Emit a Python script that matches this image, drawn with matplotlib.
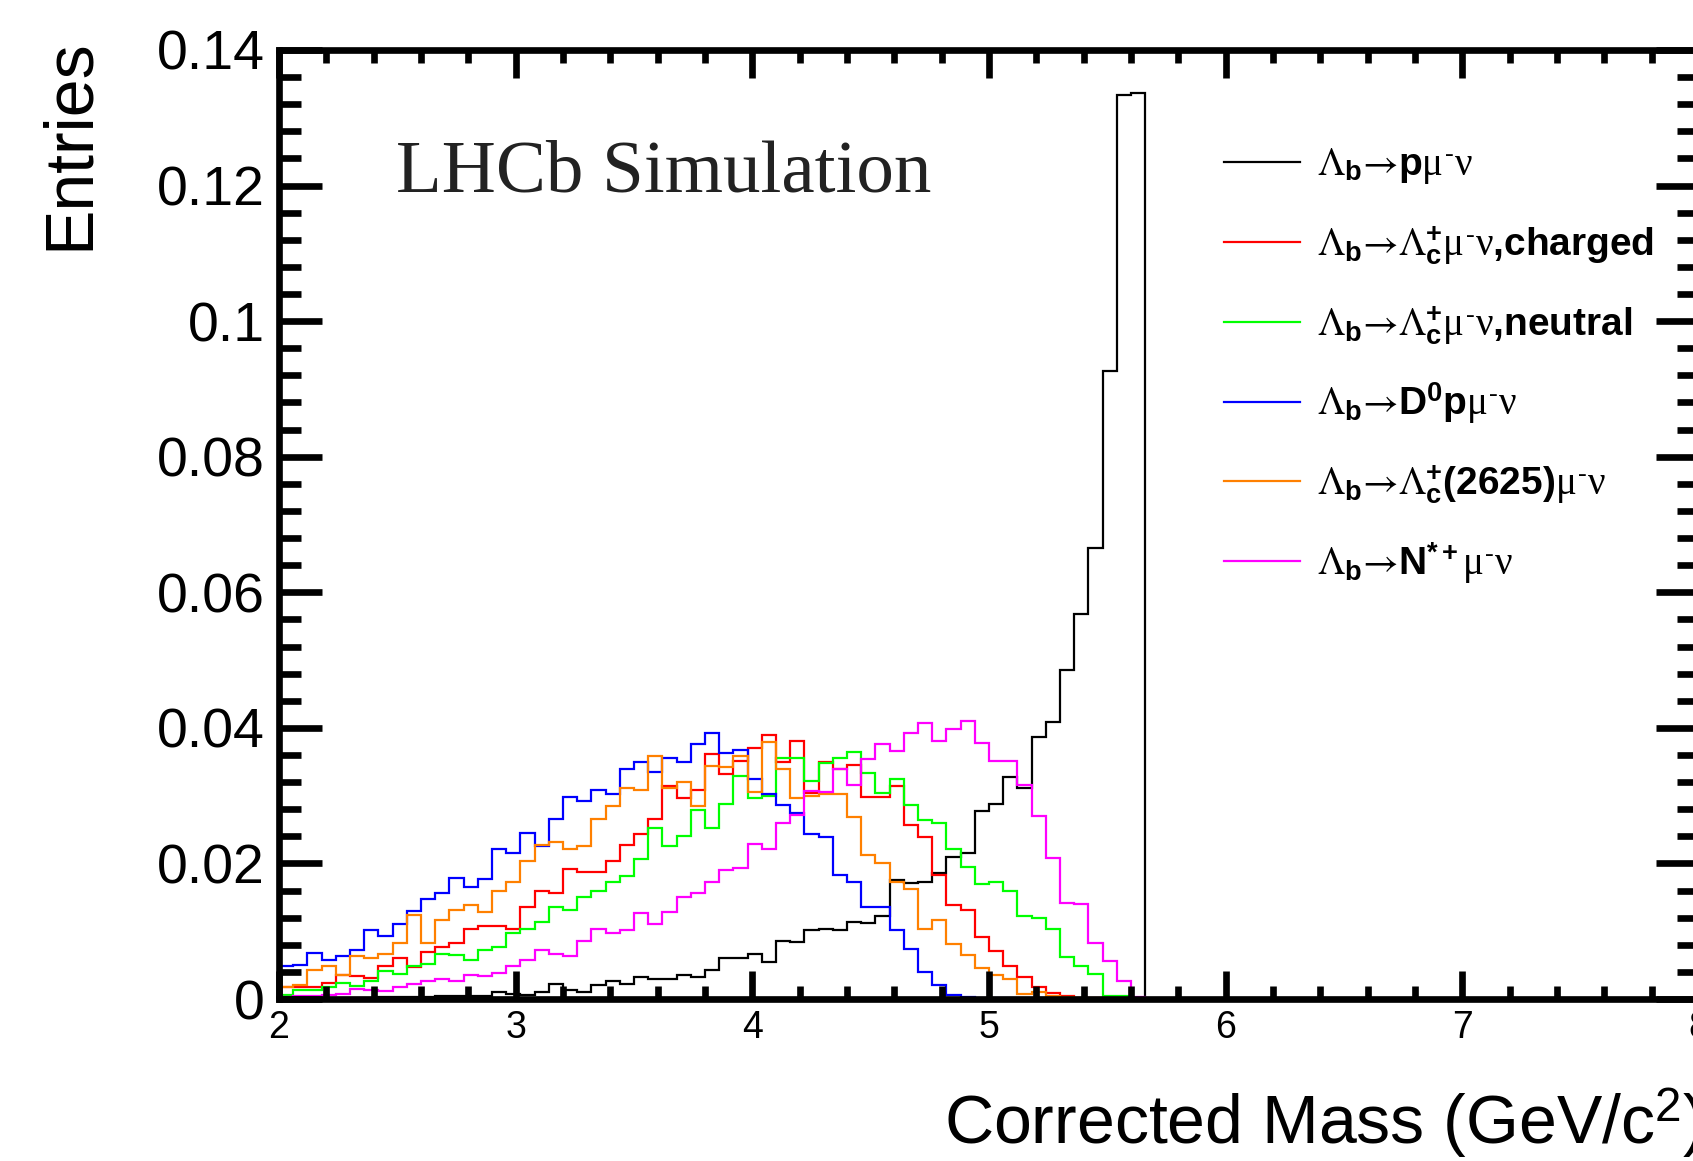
import matplotlib
matplotlib.use("Agg")
import matplotlib.pyplot as plt
from matplotlib.legend_handler import HandlerLine2D
import numpy as np

plt.rcParams['font.family'] = ['Liberation Sans', 'DejaVu Sans']
plt.rcParams['mathtext.fontset'] = 'custom'
plt.rcParams['mathtext.rm'] = 'STIXGeneral'
plt.rcParams['mathtext.it'] = 'Liberation Serif'
plt.rcParams['mathtext.bf'] = 'Liberation Sans:bold'
plt.rcParams['mathtext.sf'] = 'Liberation Sans'

# 100 bins of 0.06 GeV from 2 to 8 (bins above 5.66 are empty)
bin_edges = np.linspace(2.0, 8.0, 101)

# Lb -> p mu nu
h_pmunu = [0.0000, 0.0001, 0.0001, 0.0001, 0.0002, 0.0002, 0.0002, 0.0003, 0.0003, 0.0003,
           0.0003, 0.0004, 0.0004, 0.0005, 0.0005, 0.0010, 0.0008, 0.0006, 0.0011, 0.0022,
           0.0013, 0.0010, 0.0020, 0.0027, 0.0022, 0.0033, 0.0030, 0.0029, 0.0035, 0.0033,
           0.0043, 0.0061, 0.0060, 0.0066, 0.0055, 0.0085, 0.0084, 0.0102, 0.0104, 0.0102,
           0.0114, 0.0112, 0.0123, 0.0175, 0.0171, 0.0173, 0.0186, 0.0210, 0.0216, 0.0277,
           0.0288, 0.0327, 0.0311, 0.0387, 0.0408, 0.0485, 0.0568, 0.0665, 0.0927, 0.1333,
           0.1336]
# Lb -> Lc mu nu, charged
h_lc_charged = [0.0017, 0.0017, 0.0018, 0.0024, 0.0035, 0.0034, 0.0031, 0.0049, 0.0060, 0.0047,
                0.0070, 0.0077, 0.0083, 0.0104, 0.0107, 0.0108, 0.0104, 0.0135, 0.0160, 0.0156,
                0.0192, 0.0188, 0.0187, 0.0204, 0.0227, 0.0243, 0.0266, 0.0314, 0.0296, 0.0308,
                0.0362, 0.0332, 0.0351, 0.0371, 0.0390, 0.0349, 0.0380, 0.0304, 0.0350, 0.0340,
                0.0345, 0.0298, 0.0298, 0.0314, 0.0256, 0.0239, 0.0183, 0.0139, 0.0131, 0.0091,
                0.0071, 0.0049, 0.0033, 0.0017, 0.0009, 0.0004, 0.0002, 0.0001, 0.0, 0.0,
                0.0]
# Lb -> Lc mu nu, neutral
h_lc_neutral = [0.0006, 0.0013, 0.0014, 0.0017, 0.0023, 0.0019, 0.0027, 0.0042, 0.0037, 0.0048,
                0.0051, 0.0066, 0.0065, 0.0058, 0.0073, 0.0077, 0.0097, 0.0104, 0.0113, 0.0135,
                0.0132, 0.0151, 0.0160, 0.0172, 0.0181, 0.0207, 0.0253, 0.0225, 0.0241, 0.0279,
                0.0253, 0.0288, 0.0329, 0.0297, 0.0300, 0.0355, 0.0356, 0.0322, 0.0348, 0.0356,
                0.0364, 0.0334, 0.0304, 0.0324, 0.0286, 0.0264, 0.0260, 0.0222, 0.0195, 0.0170,
                0.0173, 0.0159, 0.0123, 0.0120, 0.0104, 0.0062, 0.0049, 0.0037, 0.0005, 0.0005,
                0.0]
# Lb -> D0 p mu nu
h_d0p = [0.0048, 0.0050, 0.0068, 0.0058, 0.0064, 0.0073, 0.0102, 0.0093, 0.0111, 0.0130,
         0.0147, 0.0157, 0.0178, 0.0165, 0.0177, 0.0221, 0.0216, 0.0245, 0.0226, 0.0266,
         0.0298, 0.0292, 0.0308, 0.0302, 0.0339, 0.0349, 0.0335, 0.0355, 0.0349, 0.0376,
         0.0393, 0.0363, 0.0367, 0.0325, 0.0303, 0.0286, 0.0274, 0.0243, 0.0239, 0.0183,
         0.0173, 0.0135, 0.0136, 0.0102, 0.0074, 0.0040, 0.0021, 0.0006, 0.0003, 0.0002,
         0.0002, 0.0001, 0.0001, 0.0001, 0.0001, 0.0001, 0.0, 0.0, 0.0, 0.0,
         0.0]
# Lb -> Lc(2625) mu nu
h_lc2625 = [0.0018, 0.0021, 0.0043, 0.0048, 0.0035, 0.0063, 0.0060, 0.0067, 0.0082, 0.0124,
            0.0082, 0.0116, 0.0132, 0.0139, 0.0129, 0.0160, 0.0173, 0.0204, 0.0227, 0.0231,
            0.0221, 0.0225, 0.0265, 0.0285, 0.0312, 0.0308, 0.0358, 0.0311, 0.0320, 0.0285,
            0.0344, 0.0342, 0.0358, 0.0305, 0.0379, 0.0340, 0.0296, 0.0300, 0.0302, 0.0302,
            0.0268, 0.0212, 0.0200, 0.0173, 0.0162, 0.0103, 0.0116, 0.0081, 0.0065, 0.0045,
            0.0036, 0.0029, 0.0007, 0.0011, 0.0004, 0.0003, 0.0002, 0.0001, 0.0, 0.0,
            0.0]
# Lb -> N* mu nu
h_nstar = [0.0003, 0.0004, 0.0004, 0.0006, 0.0008, 0.0015, 0.0014, 0.0012, 0.0018, 0.0022,
           0.0027, 0.0030, 0.0027, 0.0036, 0.0034, 0.0039, 0.0049, 0.0058, 0.0072, 0.0067,
           0.0064, 0.0086, 0.0103, 0.0098, 0.0102, 0.0127, 0.0111, 0.0128, 0.0151, 0.0157,
           0.0172, 0.0190, 0.0193, 0.0229, 0.0221, 0.0259, 0.0271, 0.0307, 0.0306, 0.0340,
           0.0315, 0.0354, 0.0376, 0.0366, 0.0392, 0.0407, 0.0381, 0.0398, 0.0410, 0.0377,
           0.0351, 0.0351, 0.0316, 0.0270, 0.0208, 0.0141, 0.0140, 0.0083, 0.0056, 0.0027,
           0.0003]

labels = [r'$\Lambda_{\mathbf{b}}→\mathbf{p}\mu^{\text{-}}\nu$',
          r'$\Lambda_{\mathbf{b}}→\Lambda_{\mathbf{c}}^{\mathbf{+}}\mu^{\text{-}}\nu\mathbf{{,}charged}$',
          r'$\Lambda_{\mathbf{b}}→\Lambda_{\mathbf{c}}^{\mathbf{+}}\mu^{\text{-}}\nu\mathbf{{,}neutral}$',
          r'$\Lambda_{\mathbf{b}}→\mathbf{D}^{\mathbf{0}}\mathbf{p}\mu^{\text{-}}\nu$',
          r'$\Lambda_{\mathbf{b}}→\Lambda_{\mathbf{c}}^{\mathbf{+}}\mathbf{(2625)}\mu^{\text{-}}\nu$',
          r'$\Lambda_{\mathbf{b}}→\mathbf{N}^{\mathbf{*+}}\mu^{\text{-}}\nu$']
colors = ['black', '#ff0000', '#00ff00', '#0000ff', '#ff8000', '#ff00ff']

y_ticks = [0, 0.02, 0.04, 0.06, 0.08, 0.1, 0.12, 0.14]
y_tick_labels = ['0', '0.02', '0.04', '0.06', '0.08', '0.1', '0.12', '0.14']
x_ticks = [2, 3, 4, 5, 6, 7, 8]


# legend line sits at the middle of the text, rows get the same height
class RowLine(HandlerLine2D):
    def create_artists(self, legend, orig_handle, xdescent, ydescent, width, height, fontsize, trans):
        arts = super().create_artists(legend, orig_handle, xdescent, ydescent, width, height, fontsize, trans)
        for a in arts:
            a.set_ydata(np.full_like(np.asarray(a.get_xdata(), dtype=float), 0.34 * fontsize))
        return arts


W, H = 1693, 1161
fig = plt.figure(figsize=(W / 100, H / 100), dpi=100)
ax = fig.add_axes([279 / W, (H - 999) / H, (1699 - 279) / W, (999 - 50) / H])

series = [h_pmunu, h_lc_charged, h_lc_neutral, h_d0p, h_lc2625, h_nstar]
handles = []
for vals, col, lab in zip(series, colors, labels):
    full = np.zeros(len(bin_edges) - 1)
    full[:len(vals)] = vals
    ax.stairs(full, bin_edges, color=col, linewidth=1.6, baseline=0)
    h, = ax.plot([], [], color=col, linewidth=1.6, label=lab)
    handles.append(h)

ax.set_xlim(2, 8)
ax.set_ylim(0, 0.14)
ax.set_xticks(x_ticks)
ax.set_xticks(np.arange(2, 8.01, 0.2), minor=True)
ax.set_yticks(y_ticks)
ax.set_yticklabels(y_tick_labels)
ax.set_yticks(np.arange(0, 0.1401, 0.004), minor=True)

for s in ax.spines.values():
    s.set_linewidth(4.8)
ax.tick_params(axis='both', which='both', direction='in', top=True, right=True, width=4.8)
ax.tick_params(axis='y', which='major', length=31, labelsize=40, pad=10)
ax.tick_params(axis='y', which='minor', length=16)
ax.tick_params(axis='x', which='major', length=20, labelsize=27, pad=8)
ax.tick_params(axis='x', which='minor', length=9.5)

fig.text(70 / W, 1 - 38 / H, 'Entries', rotation=90, ha='center', va='top', fontsize=49)
fig.text(944 / W, 1 - 1123 / H, r'Corrected Mass (GeV/c$^{\mathsf{2}}$)', ha='left', va='center', fontsize=49)
fig.text(396 / W, 1 - 192 / H, 'LHCb Simulation', family='Liberation Serif', fontsize=54,
         color='#222222', va='baseline')

leg = ax.legend(handles=handles, loc='upper left', bbox_to_anchor=(1224 / W, 1 - 124 / H),
                bbox_transform=fig.transFigure, frameon=False, fontsize=28,
                handlelength=1.95, handleheight=2.78, handletextpad=0.44,
                labelspacing=0.0, borderpad=0, borderaxespad=0,
                handler_map={h: RowLine() for h in handles})

fig.savefig('out.png', dpi=100)
